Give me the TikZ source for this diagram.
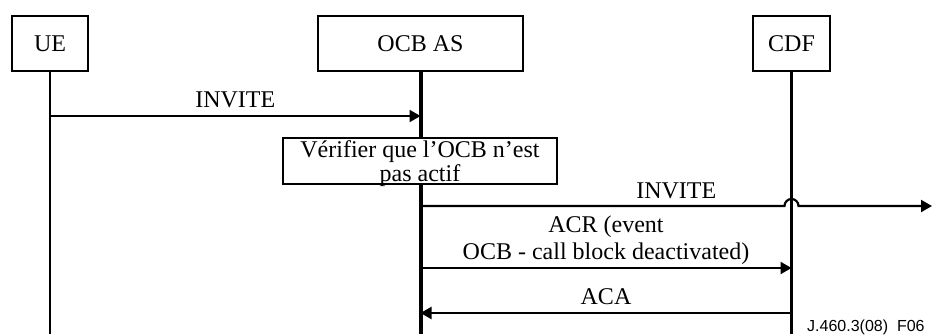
\documentclass[tikz,border=0pt]{standalone}
\usepackage{fontspec}
\setmainfont{Liberation Serif}
\setsansfont{Liberation Sans}
\usetikzlibrary{arrows.meta, positioning}

\begin{document}
\begin{tikzpicture}[x=0.5pt, y=-0.5pt, >={Triangle[length=5.5pt, width=6pt]},
		font=\fontsize{12}{13.5}\selectfont,
		entity/.style={draw, line width=1pt, rectangle, inner sep=0pt, minimum height=27.5pt},
		lifeline/.style={line width=1.4pt},
		msg/.style={->, line width=1.1pt},
		msg label/.style={above, midway, inner sep=3.5pt, text depth=0pt, align=center}]
	\useasboundingbox (0, 0) rectangle (932, 334);

	%% Nodes
	\begin{scope}
		\node (ue) at (50, 43.5) [entity, minimum width=38pt] {UE};
		\node (ocb) at (420.5, 43.5) [entity, minimum width=102.5pt] {OCB AS};
		\node (cdf) at (791.5, 43.5) [entity, minimum width=38.5pt] {CDF};
	\end{scope}

	% Lifelines
	\begin{scope}
		\coordinate (ue_end) at (ue |- 0, 334);
		\coordinate (ocb_end) at (ocb |- 0, 334);
		\coordinate (cdf_end) at (cdf |- 0, 334);
		\draw[lifeline] (ue.south) -- (ue_end);
		\draw[lifeline, line width=2pt] (ocb.south) -- (ocb_end);
		\draw[lifeline, line width=1.7pt] (cdf.south) -- (cdf_end);
	\end{scope}

	% Check box
	\begin{scope}
		\node (check) at (420, 161) [draw, fill=white, line width=1pt, minimum width=137pt, minimum height=23pt,
			inner sep=0pt, align=center, font=\fontsize{12}{9.5}\selectfont, text height=20pt, text depth=0pt]
			{Vérifier que l'OCB n'est\\pas actif};
	\end{scope}

	% Message points
	\begin{scope}
		\coordinate (ue_invite) at (ue |- 0, 116);
		\coordinate (ocb_invite) at (ocb |- 0, 116);
		\coordinate (ocb_fwd) at (ocb |- 0, 206);
		\coordinate (cdf_fwd) at (cdf |- 0, 206);
		\coordinate (fwd_end) at (932, 206);
		\coordinate (ocb_acr) at (ocb |- 0, 268);
		\coordinate (cdf_acr) at (cdf |- 0, 268);
		\coordinate (cdf_aca) at (cdf |- 0, 313);
		\coordinate (ocb_aca) at (ocb |- 0, 313);
	\end{scope}

	%% Edges
	\draw[msg] (ue_invite) -- node[msg label] {INVITE} (ocb_invite);

	\draw[msg] (ocb_fwd) -- ([xshift=-3.5pt]cdf_fwd) arc[start angle=180, end angle=0, radius=3.5pt] -- (fwd_end);
	\path (ocb_fwd) -- node[msg label] {INVITE} (fwd_end);

	\draw[msg] (ocb_acr) -- node[msg label] {ACR (event\\OCB - call block deactivated)} (cdf_acr);
	\draw[msg] (cdf_aca) -- node[msg label] {ACA} (ocb_aca);

	% Figure reference
	\node (fig_ref) at (925, 331) [anchor=base east, inner sep=0pt, font=\sffamily\fontsize{8}{9.6}\selectfont] {J.460.3(08)~~F06};
\end{tikzpicture}
\end{document}
